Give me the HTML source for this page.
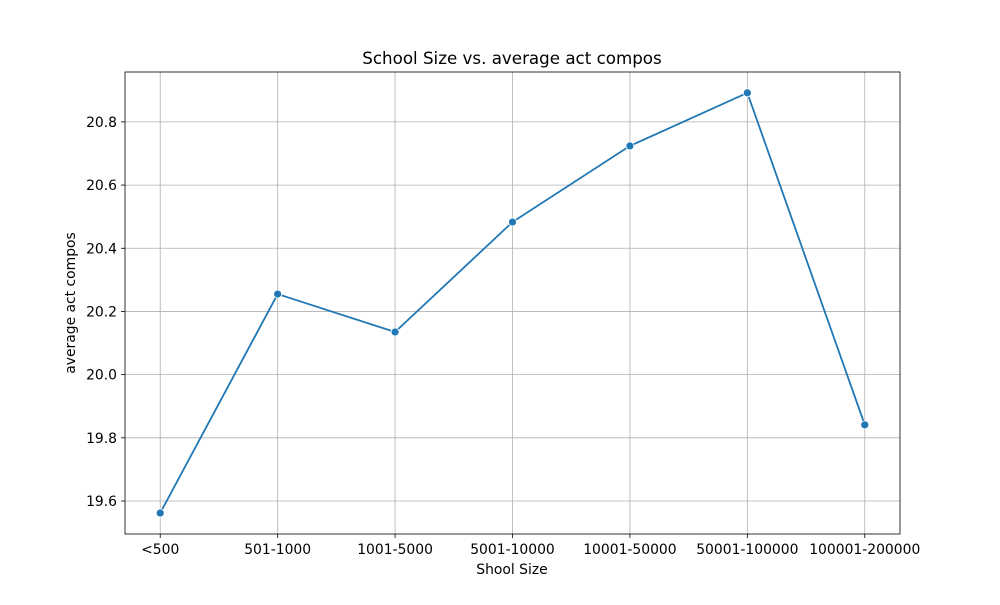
<!DOCTYPE html>
<html><head><meta charset="utf-8"><style>
body{margin:0;background:#fff;font-family:"Liberation Sans","DejaVu Sans",sans-serif;}
</style></head><body>
<svg id="chart" width="1000" height="600" xmlns="http://www.w3.org/2000/svg" font-family="DejaVu Sans, Liberation Sans, sans-serif">
<rect width="1000" height="600" fill="#fff"/>
<g id="grid"></g>
<g id="axes"></g>
<g id="series"></g>
<text x="512" y="64" font-size="16.7" text-anchor="middle">School Size vs. average act compos</text>
<text x="512" y="574" font-size="13.9" text-anchor="middle">Shool Size</text>
<text transform="translate(75,303) rotate(-90)" font-size="13.9" text-anchor="middle">average act compos</text>
</svg>
<script>
const categories = ["<500","501-1000","1001-5000","5001-10000","10001-50000","50001-100000","100001-200000"];
const values = [19.562,20.255,20.135,20.483,20.724,20.892,19.841];
const yTicks = [19.6,19.8,20.0,20.2,20.4,20.6,20.8];
const yTickLabels = ["19.6","19.8","20.0","20.2","20.4","20.6","20.8"];

const L=125,R=900,T=72,B=534;
const xMin=-0.3,xMax=categories.length-1+0.3,yMin=19.4955,yMax=20.958;
const xs=i=>L+(i-xMin)/(xMax-xMin)*(R-L);
const ys=v=>B-(v-yMin)/(yMax-yMin)*(B-T);
const NS="http://www.w3.org/2000/svg";
function mk(tag,attrs,parent){const e=document.createElementNS(NS,tag);for(const k in attrs)e.setAttribute(k,attrs[k]);parent.appendChild(e);return e;}
const grid=document.getElementById('grid'),axes=document.getElementById('axes'),series=document.getElementById('series');
categories.forEach((c,i)=>{
  const x=xs(i);
  const g=mk('line',{x1:x,x2:x,y1:T,y2:B,stroke:'#b0b0b0','stroke-width':0.8},grid);
  
  
  const t=mk('line',{x1:x,x2:x,y1:B,y2:B+4,stroke:'#000','stroke-width':0.8},axes);
  
  
  const l=mk('text',{x:x,y:B+20,'font-size':13.9,'text-anchor':'middle'},axes);
  l.textContent=c;
  
  
});
yTicks.forEach((v,i)=>{
  const y=ys(v);
  const g=mk('line',{x1:L,x2:R,y1:y,y2:y,stroke:'#b0b0b0','stroke-width':0.8},grid);
  
  
  const t=mk('line',{x1:L-4,x2:L,y1:y,y2:y,stroke:'#000','stroke-width':0.8},axes);
  
  
  const l=mk('text',{x:L-8,y:y+5,'font-size':13.9,'text-anchor':'end'},axes);
  l.textContent=yTickLabels[i];
  
  
});
const frame=mk('rect',{x:L,y:T,width:R-L,height:B-T,fill:'none',stroke:'#000','stroke-width':0.8},axes);


const pts=values.map((v,i)=>xs(i)+','+ys(v)).join(' ');
const pl=mk('polyline',{points:pts,fill:'none',stroke:'#1f77b4','stroke-width':1.8},series);


values.forEach((v,i)=>{
  const c=mk('circle',{cx:xs(i),cy:ys(v),r:4,fill:'#1f77b4',stroke:'#fff','stroke-width':0.8},series);
  
  
});
</script>
</body></html>
